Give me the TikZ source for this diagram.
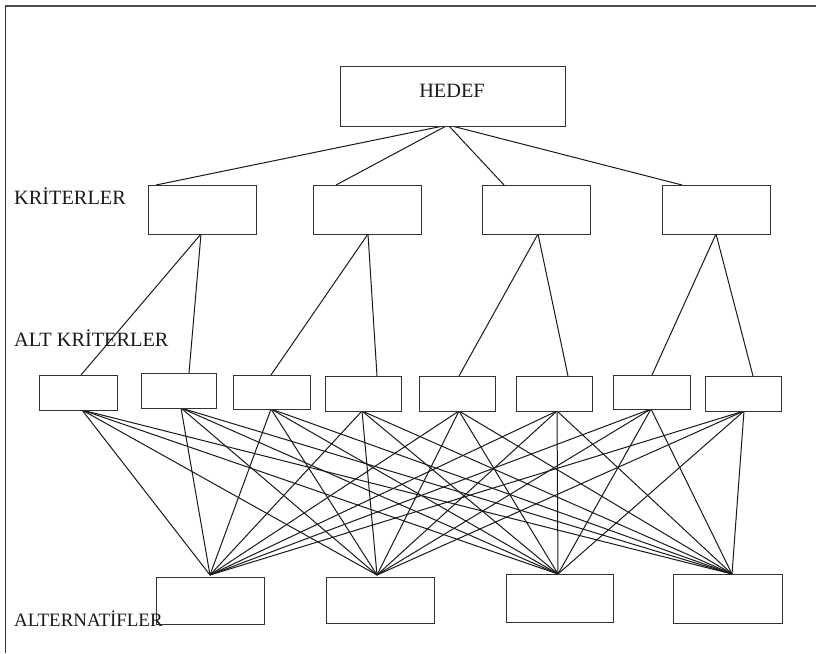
\documentclass[tikz,border=0pt]{standalone}
\usepackage{fontspec}
\setmainfont{Liberation Serif}
\begin{document}
\begin{tikzpicture}[x=1pt,y=-1pt,
  box/.style={draw=black!80, line width=1.1pt, fill=white, inner sep=0pt, anchor=north west},
  kbox/.style={box, minimum width=108pt, minimum height=49pt},
  abox/.style={box, minimum width=77pt, minimum height=35pt},
  lbox/.style={box, minimum width=108pt, minimum height=48pt},
  link/.style={line width=1pt, black!90},
  lvl/.style={anchor=base west, inner sep=0pt, font=\fontsize{20.3}{24}\selectfont, text=black!90}]
\useasboundingbox (0,0) rectangle (816,653);

% page frame (top and left rules)
\draw[line width=1.3pt, black!70] (816,6) -- (5,6);
\draw[line width=0.9pt, black!80] (5,6) -- (5,653);

% connection points
\coordinate (hb) at (448,125);
\coordinate (k1t) at (156,185); \coordinate (k1b) at (201,234);
\coordinate (k2t) at (336,185); \coordinate (k2b) at (368,234);
\coordinate (k3t) at (504,185); \coordinate (k3b) at (538,234);
\coordinate (k4t) at (682,185); \coordinate (k4b) at (716,234);
\coordinate (a1t) at (81,375);  \coordinate (a1b) at (82,410);
\coordinate (a2t) at (189,373); \coordinate (a2b) at (181,408);
\coordinate (a3t) at (271,375); \coordinate (a3b) at (271,409);
\coordinate (a4t) at (377,376); \coordinate (a4b) at (362,411);
\coordinate (a5t) at (459,376); \coordinate (a5b) at (459,411);
\coordinate (a6t) at (568,376); \coordinate (a6b) at (557,411);
\coordinate (a7t) at (652,375); \coordinate (a7b) at (651,409);
\coordinate (a8t) at (753,376); \coordinate (a8b) at (744,411);
\coordinate (l1t) at (210,575);
\coordinate (l2t) at (377,575);
\coordinate (l3t) at (558,574);
\coordinate (l4t) at (732,574);

% connectors
\foreach \k in {1,...,4} \draw[link] (hb) -- (k\k t);
\draw[link] (k1b) -- (a1t); \draw[link] (k1b) -- (a2t);
\draw[link] (k2b) -- (a3t); \draw[link] (k2b) -- (a4t);
\draw[link] (k3b) -- (a5t); \draw[link] (k3b) -- (a6t);
\draw[link] (k4b) -- (a7t); \draw[link] (k4b) -- (a8t);
\foreach \a in {1,...,8}
  \foreach \l in {1,...,4}
    \draw[link] (a\a b) -- (l\l t);

% goal
\node[box, minimum width=225pt, minimum height=60pt] (hedef) at (340,66) {};
\node[anchor=base, inner sep=0pt, font=\fontsize{20.3}{24}\selectfont, text=black!90] (hedeft) at (452,97) {HEDEF};

% criteria
\node[kbox] (k1) at (148,185) {};
\node[kbox] (k2) at (313,185) {};
\node[kbox] (k3) at (482,185) {};
\node[kbox] (k4) at (662,185) {};

% sub-criteria
\node[abox, minimum width=78pt] (a1) at (39,375) {};
\node[abox, minimum width=75pt] (a2) at (141,373) {};
\node[abox, minimum height=34pt] (a3) at (233,375) {};
\node[abox, minimum width=76pt] (a4) at (325,376) {};
\node[abox, minimum width=76pt] (a5) at (419,376) {};
\node[abox, minimum width=76pt] (a6) at (516,376) {};
\node[abox, minimum height=34pt] (a7) at (613,375) {};
\node[abox, minimum width=76pt] (a8) at (705,376) {};

% alternatives
\node[lbox, minimum height=47pt] (l1) at (156,577) {};
\node[lbox, minimum height=46pt] (l2) at (326,577) {};
\node[lbox, minimum width=107pt] (l3) at (506,574) {};
\node[lbox, minimum width=109pt, minimum height=49pt] (l4) at (673,574) {};

% level labels
\node[lvl] (lk) at (14,204) {KRİTERLER};
\node[lvl] (la) at (14,346) {ALT KRİTERLER};
\node[lvl, font=\fontsize{18.9}{23}\selectfont] (ll) at (14,626) {ALTERNATİFLER};
\end{tikzpicture}
\end{document}
